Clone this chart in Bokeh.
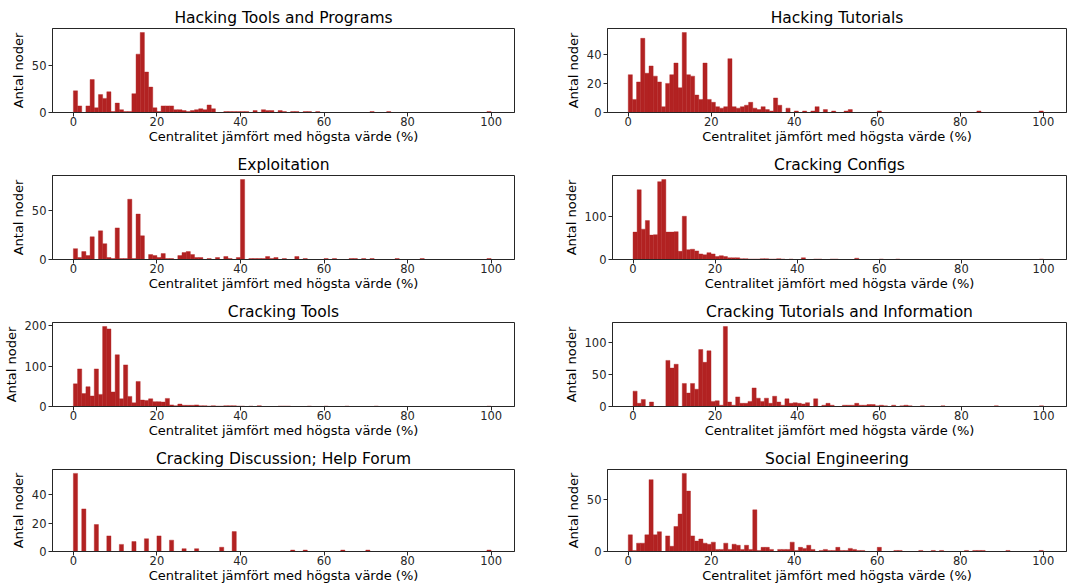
import numpy as np
from bokeh.plotting import figure
from bokeh.layouts import column, row
from bokeh.models import ColumnDataSource, Range1d, FixedTicker
from bokeh.embed import file_html
from bokeh.resources import INLINE

# Histogram counts per 1 %-bin (bin i covers [i, i+1) % of the highest centrality)
hacking_tools = [
    23, 7, 0, 7, 35, 5, 19, 15, 22, 1, 10, 3, 1, 1, 20, 62, 85, 43, 27, 5,
    1, 7, 7, 7, 3, 3, 2, 1, 2, 3, 4, 3, 8, 4, 0, 0, 1, 1, 1, 1,
    1, 1, 0, 2, 0, 3, 2, 2, 0, 2, 1, 0, 1, 1, 0, 1, 1, 0, 1, 0,
    0, 0, 0, 0, 0, 0, 0, 0, 0, 0, 0, 1, 0, 0, 0, 1, 0, 0, 0, 0,
    0, 0, 0, 0, 0, 0, 0, 0, 0, 0, 0, 0, 0, 0, 0, 0, 0, 0, 0, 1,
]
hacking_tutorials = [
    26, 9, 21, 51, 27, 32, 25, 21, 4, 20, 26, 34, 17, 55, 26, 25, 12, 9, 34, 9,
    7, 4, 3, 4, 37, 4, 3, 4, 5, 7, 3, 2, 4, 2, 1, 10, 5, 0, 3, 0,
    1, 0, 1, 0, 1, 4, 0, 2, 0, 1, 0, 0, 1, 2, 0, 0, 0, 0, 0, 0,
    1, 0, 0, 0, 0, 0, 0, 0, 0, 0, 0, 0, 0, 0, 0, 0, 0, 0, 0, 0,
    0, 0, 0, 0, 1, 0, 0, 0, 0, 0, 0, 0, 0, 0, 0, 0, 0, 0, 0, 1,
]
exploitation = [
    11, 2, 8, 4, 23, 0, 29, 16, 2, 1, 32, 1, 1, 61, 1, 46, 24, 0, 5, 4,
    2, 6, 1, 1, 0, 4, 7, 8, 5, 2, 2, 0, 1, 0, 2, 0, 3, 1, 0, 2,
    81, 0, 1, 1, 1, 1, 3, 1, 2, 0, 1, 0, 0, 3, 0, 1, 0, 0, 0, 0,
    1, 0, 1, 0, 0, 0, 1, 1, 0, 1, 0, 1, 0, 0, 0, 0, 0, 1, 0, 0,
    0, 0, 0, 1, 0, 0, 0, 0, 0, 0, 0, 0, 0, 0, 0, 0, 0, 0, 0, 1,
]
cracking_configs = [
    64, 163, 71, 91, 57, 58, 182, 187, 64, 64, 65, 19, 101, 23, 24, 20, 13, 11, 16, 13,
    7, 9, 7, 4, 4, 4, 2, 2, 1, 1, 1, 2, 2, 1, 1, 2, 1, 0, 1, 0,
    0, 4, 0, 0, 1, 1, 0, 0, 1, 1, 0, 0, 0, 0, 3, 0, 0, 0, 0, 0,
    1, 0, 0, 0, 1, 0, 0, 0, 0, 0, 0, 0, 0, 0, 0, 0, 0, 0, 0, 0,
    0, 0, 0, 0, 0, 0, 0, 0, 0, 0, 0, 0, 0, 0, 0, 0, 0, 0, 0, 1,
]
cracking_tools = [
    56, 93, 32, 49, 26, 93, 30, 198, 192, 36, 128, 19, 103, 25, 9, 62, 16, 15, 19, 12,
    12, 11, 20, 4, 2, 6, 3, 3, 3, 4, 2, 2, 1, 2, 1, 1, 2, 2, 2, 1,
    1, 0, 1, 0, 2, 0, 0, 0, 0, 1, 1, 1, 0, 0, 0, 0, 1, 0, 0, 0,
    1, 0, 0, 0, 0, 1, 0, 0, 0, 0, 0, 0, 1, 0, 0, 0, 0, 0, 0, 0,
    0, 0, 0, 0, 0, 0, 0, 0, 0, 0, 0, 0, 0, 0, 0, 0, 0, 0, 0, 1,
]
cracking_tutorials = [
    24, 5, 11, 0, 7, 0, 0, 0, 72, 60, 66, 0, 36, 21, 36, 27, 89, 69, 87, 8,
    9, 2, 125, 7, 2, 15, 5, 5, 8, 29, 13, 8, 13, 5, 16, 7, 2, 12, 5, 6,
    5, 4, 6, 0, 12, 0, 2, 5, 2, 0, 0, 2, 2, 2, 5, 2, 2, 3, 3, 1,
    2, 1, 0, 2, 0, 1, 2, 1, 0, 0, 1, 0, 0, 0, 0, 1, 0, 0, 0, 0,
    0, 0, 0, 0, 0, 0, 0, 0, 1, 0, 0, 0, 0, 0, 0, 0, 0, 0, 0, 1,
]
cracking_discussion = [
    55, 0, 30, 0, 0, 19, 0, 0, 11, 0, 0, 5, 0, 0, 7, 0, 0, 9, 0, 0,
    11, 0, 0, 8, 0, 0, 2, 0, 0, 2, 0, 0, 0, 0, 0, 3, 0, 0, 14, 0,
    0, 0, 0, 0, 0, 0, 0, 0, 0, 0, 0, 0, 1, 0, 0, 1, 0, 0, 0, 0,
    0, 0, 0, 0, 1, 0, 0, 0, 0, 0, 1, 0, 0, 0, 0, 0, 0, 0, 0, 0,
    0, 0, 0, 0, 0, 0, 0, 0, 0, 0, 0, 0, 0, 0, 0, 0, 0, 0, 0, 1,
]
social_engineering = [
    16, 1, 8, 8, 16, 69, 16, 19, 0, 15, 5, 24, 36, 75, 58, 15, 10, 12, 8, 7,
    9, 2, 2, 8, 2, 7, 6, 2, 6, 2, 40, 1, 4, 4, 2, 0, 2, 2, 2, 9,
    1, 4, 3, 6, 2, 0, 1, 2, 1, 1, 4, 1, 1, 3, 2, 1, 1, 0, 0, 0,
    4, 0, 0, 0, 1, 1, 0, 0, 0, 0, 1, 0, 0, 1, 0, 1, 0, 0, 0, 0,
    0, 1, 0, 1, 1, 1, 0, 0, 0, 0, 0, 1, 0, 0, 0, 0, 0, 0, 0, 1,
]

titles = [
    "Hacking Tools and Programs", "Hacking Tutorials",
    "Exploitation", "Cracking Configs",
    "Cracking Tools", "Cracking Tutorials and Information",
    "Cracking Discussion; Help Forum", "Social Engineering",
]
series = [
    hacking_tools, hacking_tutorials,
    exploitation, cracking_configs,
    cracking_tools, cracking_tutorials,
    cracking_discussion, social_engineering,
]
y_ticks = [
    [0, 50], [0, 20, 40],
    [0, 50], [0, 100],
    [0, 100, 200], [0, 50, 100],
    [0, 20, 40], [0, 50],
]
x_ticks = [0, 20, 40, 60, 80, 100]
x_label = "Centralitet jämfört med högsta värde (%)"
y_label = "Antal noder"

FONT = "DejaVu Sans"
BAR = "#b22222"
INK = "#262626"


def make_panel(title, counts, yt, col, last_row):
    edges = np.arange(len(counts) + 1)
    idx = [i for i, c in enumerate(counts) if c > 0]
    src = ColumnDataSource(dict(
        left=[edges[i] for i in idx],
        right=[edges[i + 1] for i in idx],
        top=[counts[i] for i in idx],
    ))
    if col == 0:
        w, bl, br = 560, 52, 46
    else:
        w, bl, br = 507, 47, 1
    h, bt, bb = (144, 28, 32) if last_row else (147, 28, 35)
    p = figure(
        width=w, height=h,
        x_range=Range1d(-5, 105.6), y_range=Range1d(0, max(counts) * 1.05),
        output_backend="svg", toolbar_location=None,
        min_border_left=bl, min_border_right=br,
        min_border_top=bt, min_border_bottom=bb,
        background_fill_color="white", border_fill_color="white",
    )
    p.quad(left="left", right="right", bottom=0, top="top", source=src,
           fill_color=BAR, line_color=BAR, line_width=0.4)

    p.title.text = title
    p.title.align = "center"
    p.title.text_font = FONT
    p.title.text_font_size = "15.5px"
    p.title.text_font_style = "normal"
    p.title.text_color = "black"
    p.title.standoff = 3

    p.xgrid.visible = False
    p.ygrid.visible = False
    p.outline_line_color = INK
    p.outline_line_width = 1

    p.xaxis.ticker = FixedTicker(ticks=x_ticks)
    p.yaxis.ticker = FixedTicker(ticks=yt)
    p.xaxis.axis_label = x_label
    p.yaxis.axis_label = y_label
    for ax in (p.xaxis, p.yaxis):
        ax.axis_line_color = INK
        ax.major_tick_line_color = INK
        ax.major_tick_out = 4
        ax.major_tick_in = 0
        ax.minor_tick_line_color = None
        ax.major_label_text_font = FONT
        ax.major_label_text_font_size = "11.5px"
        ax.major_label_text_color = INK
        ax.axis_label_text_font = FONT
        ax.axis_label_text_font_size = "13px"
        ax.axis_label_text_font_style = "normal"
        ax.axis_label_text_color = "black"
    p.xaxis.major_label_standoff = 0
    p.xaxis.axis_label_standoff = 0
    p.yaxis.major_label_standoff = 2
    p.yaxis.axis_label_standoff = 3
    return p


panels = [
    make_panel(titles[k], series[k], y_ticks[k], k % 2, k >= 6)
    for k in range(8)
]
layout = column(
    *[row(panels[2 * r], panels[2 * r + 1]) for r in range(4)]
)

open("out.html", "w").write(file_html(layout, INLINE))
